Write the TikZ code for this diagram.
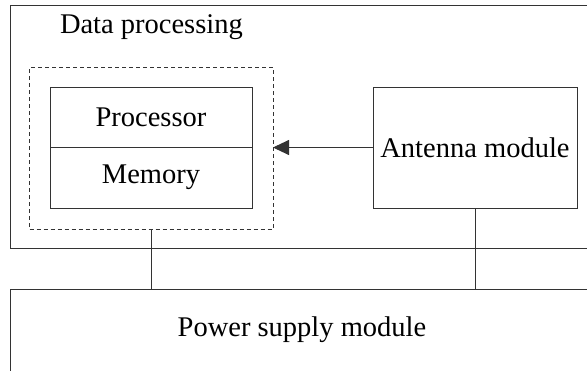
\documentclass[tikz,border=0pt]{standalone}
\usepackage{fontspec}
\setmainfont{Liberation Serif}
\usetikzlibrary{arrows.meta}
\begin{document}
\begin{tikzpicture}[x=1pt,y=-1pt,
  every node/.style={inner sep=0pt, outer sep=0pt},
  frame/.style={draw=black!80, line width=0.9pt, rectangle, anchor=north west},
  block/.style={frame, font=\fontsize{28.5}{34}\selectfont},
  dashframe/.style={frame, dashed, dash pattern=on 4pt off 3pt},
  wire/.style={draw=black!80, line width=0.9pt}]
  \useasboundingbox (0,0) rectangle (587,370);
  \clip (0,0) rectangle (587,370);

  % outer data-processing frame and its title
  \node[frame, minimum width=600pt, minimum height=243pt] (dp) at (10,5) {};
  \node[anchor=west, font=\fontsize{28.5}{34}\selectfont] (dptitle) at (60,27) {Data processing};

  % dashed group holding processor and memory
  \node[dashframe, minimum width=243.5pt, minimum height=162pt] (grp) at (29.5,67) {};
  \node[block, minimum width=202pt, minimum height=60pt] (proc) at (50,87) {Processor};
  \node[block, minimum width=202pt, minimum height=61pt] (mem) at (50,147) {Memory};

  % antenna module
  \node[block, minimum width=204pt, minimum height=121pt] (ant) at (373,87) {Antenna module};

  % power supply module
  \node[block, minimum width=600pt, minimum height=100pt] (pow) at (10,289) {};
  \node[font=\fontsize{28.5}{34}\selectfont] (powtext) at (302,330) {Power supply module};

  % connectors
  \draw[wire, -{Triangle[length=16pt, width=15pt]}] (ant.west) -- (grp.east |- ant.west);
  \draw[wire] (grp.south) -- (grp.south |- pow.north);
  \draw[wire] (ant.south) -- (ant.south |- pow.north);
\end{tikzpicture}
\end{document}
